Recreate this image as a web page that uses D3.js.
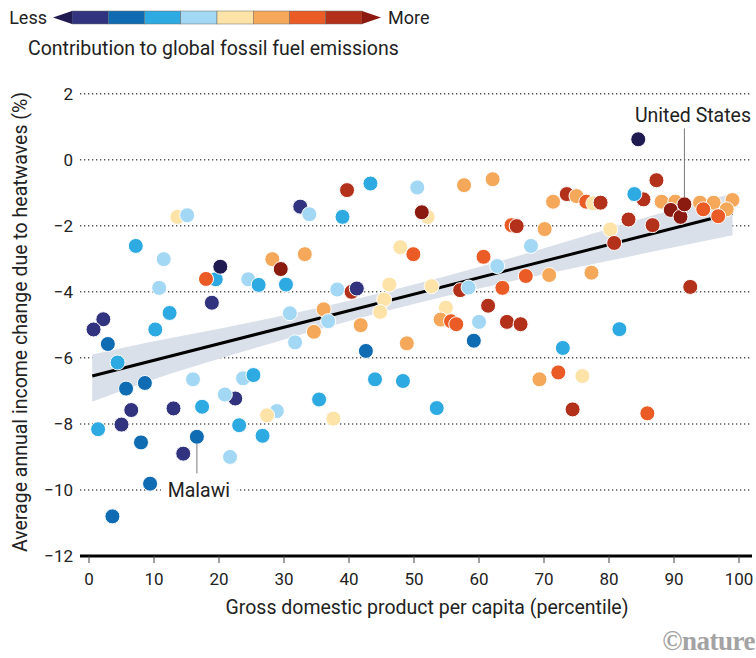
<!DOCTYPE html>
<html>
<head>
<meta charset="utf-8">
<script src="https://cdn.jsdelivr.net/npm/d3@7"></script>
<style>
  body { margin: 0; background: #fff; }
  svg { font-family: Roboto, "Noto Sans", sans-serif; }
</style>
</head>
<body>
<div id="chart"></div>
<script>
// 圖例: 0 = 最少 (箭頭), 1..8 = 色階, 9 = 最多 (箭頭)
const binColors = ["#1f1a50", "#32337f", "#0f6cb2", "#2eaae2", "#a3d8f4",
                   "#fde3a7", "#f5a85a", "#ea5b25", "#b3301a", "#8b1a10"];

// 每個國家: GDP 百分位, 收入變化 (%), 排放等級
const percentile = [
  13.6, 15.1, 7.2, 11.5, 19.5, 18.0, 20.2, 24.5, 10.8, 18.9,
  12.4, 2.2, 0.7, 10.2, 2.9, 4.4, 5.7, 8.6, 16.0, 23.7,
  25.3, 22.5, 20.9, 6.5, 13.0, 17.4, 5.0, 1.4, 23.1, 8.0,
  16.6, 14.5, 21.7, 9.4, 3.6,
  39.7, 43.3, 32.5, 33.9, 39.0, 47.9, 49.9, 28.2, 33.2, 29.5,
  26.1, 30.3, 38.2, 40.4, 41.2, 46.2, 30.9, 36.1, 36.8, 34.6,
  45.4, 44.8, 41.8, 31.7, 42.6, 48.9, 44.0, 48.3, 35.4, 28.9,
  27.4, 37.6, 26.7,
  50.5, 57.7, 62.1, 71.4, 52.1, 51.2, 65.0, 65.8, 70.1, 60.7,
  68.0, 62.8, 67.2, 70.8, 52.7, 57.1, 58.4, 63.6, 61.4, 54.9,
  54.1, 55.7, 56.5, 60.0, 64.3, 66.4, 59.2, 72.9, 69.3, 72.2,
  53.5, 74.4,
  84.5, 87.3, 85.3, 83.9, 73.5, 75.0, 76.5, 77.6, 78.7, 88.1,
  90.2, 89.5, 91.0, 91.6, 94.0, 96.1, 99.0, 94.5, 98.1, 96.8,
  83.0, 86.7, 80.2, 80.8, 77.3, 92.5, 81.6, 75.9, 85.9
];
const incomeChange = [
  -1.73, -1.68, -2.61, -3.01, -3.62, -3.61, -3.24, -3.62, -3.88, -4.33,
  -4.64, -4.83, -5.14, -5.14, -5.58, -6.14, -6.93, -6.76, -6.65, -6.62,
  -6.52, -7.23, -7.11, -7.58, -7.53, -7.48, -8.02, -8.16, -8.04, -8.56,
  -8.39, -8.90, -9.00, -9.81, -10.80,
  -0.92, -0.72, -1.42, -1.65, -1.73, -2.65, -2.86, -3.01, -2.86, -3.31,
  -3.79, -3.78, -3.93, -4.00, -3.90, -3.78, -4.65, -4.53, -4.89, -5.21,
  -4.23, -4.61, -5.01, -5.53, -5.79, -5.56, -6.65, -6.70, -7.26, -7.61,
  -7.74, -7.84, -8.36,
  -0.84, -0.77, -0.59, -1.27, -1.73, -1.59, -1.98, -2.01, -2.10, -2.94,
  -2.61, -3.22, -3.52, -3.49, -3.83, -3.95, -3.87, -3.88, -4.42, -4.48,
  -4.84, -4.89, -4.98, -4.91, -4.91, -4.98, -5.48, -5.70, -6.65, -6.44,
  -7.52, -7.56,
  0.62, -0.62, -1.20, -1.04, -1.04, -1.10, -1.27, -1.32, -1.30, -1.27,
  -1.27, -1.52, -1.73, -1.35, -1.30, -1.30, -1.22, -1.50, -1.50, -1.71,
  -1.81, -1.98, -2.11, -2.52, -3.42, -3.85, -5.13, -6.55, -7.68
];
const emissionBin = [
  5, 4, 3, 4, 3, 7, 0, 4, 4, 1,
  3, 1, 1, 3, 2, 3, 2, 2, 4, 4,
  3, 1, 4, 1, 1, 3, 1, 3, 3, 2,
  2, 1, 4, 2, 2,
  8, 3, 1, 4, 3, 5, 7, 6, 6, 9,
  3, 3, 4, 8, 1, 5, 4, 6, 4, 6,
  5, 5, 6, 4, 2, 6, 3, 3, 3, 4,
  5, 5, 3,
  4, 6, 6, 6, 5, 9, 7, 8, 6, 7,
  4, 4, 7, 6, 5, 8, 4, 7, 8, 5,
  6, 7, 7, 4, 8, 8, 2, 3, 6, 7,
  3, 8,
  0, 8, 8, 3, 8, 6, 7, 5, 8, 6,
  6, 9, 9, 9, 6, 6, 6, 7, 6, 7,
  8, 8, 5, 8, 6, 8, 3, 5, 7
];

// 迴歸線與信賴區間
const fitX = [0.5, 99];
const fitY = [-6.55, -1.62];
const bandX = [0.5, 10, 20, 30, 40, 50, 60, 70, 80, 90, 99];
const bandHigh = [-5.90, -5.50, -5.12, -4.71, -4.27, -3.78, -3.25, -2.68, -2.09, -1.50, -1.02];
const bandLow = [-7.33, -6.65, -6.03, -5.44, -4.88, -4.37, -3.90, -3.47, -3.06, -2.65, -2.29];

const xTicks = [0, 10, 20, 30, 40, 50, 60, 70, 80, 90, 100];
const yTicks = [2, 0, -2, -4, -6, -8, -10, -12];

// 標註
const labels = [
  {name: "United States", index: 113},
  {name: "Malawi", index: 30}
];

const width = 756, height = 658;
const titleSize = 19.5;
const svg = d3.select("#chart").append("svg")
  .attr("width", width)
  .attr("height", height);

// 設定比例尺
const x = d3.scaleLinear().domain([0, 100]).range([89, 739]);
const y = d3.scaleLinear().domain([-12, 2]).range([556, 93.7]);
const plotLeft = 80, plotRight = 752;

// 圖例
const legend = svg.append("g");
const legX = d3.scaleLinear().domain([1, 9]).range([72, 362]);
legend.selectAll(".bin")
  .data(d3.range(1, 9))
  .enter().append("rect")
  .attr("x", d => legX(d))
  .attr("y", 11)
  .attr("width", legX(2) - legX(1))
  .attr("height", 13)
  .attr("fill", d => binColors[d])
  .attr("stroke", "#6a6a6a")
  .attr("stroke-width", 0.5);
legend.append("path")
  .attr("d", `M${legX(1)},11 L${legX(1) - 19},17.5 L${legX(1)},24 Z`)
  .attr("fill", binColors[0]);
legend.append("path")
  .attr("d", `M${legX(9)},11 L${legX(9) + 19},17.5 L${legX(9)},24 Z`)
  .attr("fill", binColors[9]);
legend.append("text")
  .attr("x", 47).attr("y", 24)
  .attr("text-anchor", "end")
  .attr("font-size", 18).attr("fill", "#222")
  .text("Less");
legend.append("text")
  .attr("x", 388).attr("y", 24)
  .attr("font-size", 18).attr("fill", "#222")
  .text("More");
legend.append("text")
  .attr("x", 28).attr("y", 55)
  .attr("font-size", titleSize).attr("fill", "#222")
  .text("Contribution to global fossil fuel emissions");

// 格線
svg.append("g").selectAll("line")
  .data(yTicks.filter(d => d > -12))
  .enter().append("line")
  .attr("x1", plotLeft).attr("x2", plotRight)
  .attr("y1", d => y(d)).attr("y2", d => y(d))
  .attr("stroke", "#555")
  .attr("stroke-width", 1.5)
  .attr("stroke-dasharray", "1.3,2.7");

// y 軸刻度文字
svg.append("g").selectAll("text")
  .data(yTicks)
  .enter().append("text")
  .attr("x", 73)
  .attr("y", d => y(d) + 6)
  .attr("text-anchor", "end")
  .attr("font-size", 17).attr("fill", "#222")
  .text(d => d3.format("d")(d).replace("-", "\u2212"));

// 信賴區間
const band = bandX.map((d, i) => ({x: d, lo: bandLow[i], hi: bandHigh[i]}));
svg.append("path")
  .datum(band)
  .attr("fill", "#d9e0e9")
  .attr("d", d3.area().curve(d3.curveMonotoneX)
    .x(d => x(d.x)).y0(d => y(d.lo)).y1(d => y(d.hi)));

// 迴歸線
svg.append("line")
  .attr("x1", x(fitX[0])).attr("y1", y(fitY[0]))
  .attr("x2", x(fitX[1])).attr("y2", y(fitY[1]))
  .attr("stroke", "#000")
  .attr("stroke-width", 3);

// 散佈點
const points = percentile.map((d, i) => ({x: d, y: incomeChange[i], bin: emissionBin[i]}));
svg.append("g").selectAll("circle")
  .data(points)
  .enter().append("circle")
  .attr("cx", d => x(d.x))
  .attr("cy", d => y(d.y))
  .attr("r", 7.5)
  .attr("fill", d => binColors[d.bin])
  .attr("stroke", "#fff")
  .attr("stroke-width", 1);

// 標註: United States
const us = points[labels[0].index];
svg.append("line")
  .attr("x1", x(us.x)).attr("x2", x(us.x))
  .attr("y1", y(0.95)).attr("y2", y(us.y) - 7)
  .attr("stroke", "#777").attr("stroke-width", 1);
svg.append("text")
  .attr("x", 751).attr("y", y(1.15))
  .attr("text-anchor", "end")
  .attr("font-size", titleSize).attr("fill", "#222")
  .text(labels[0].name);

// 標註: Malawi
const mw = points[labels[1].index];
svg.append("line")
  .attr("x1", x(mw.x)).attr("x2", x(mw.x))
  .attr("y1", y(mw.y) + 7).attr("y2", y(-9.5))
  .attr("stroke", "#777").attr("stroke-width", 1);
svg.append("rect")
  .attr("x", x(mw.x) - 36).attr("y", y(-9.6))
  .attr("width", 76).attr("height", 22)
  .attr("fill", "#fff");
svg.append("text")
  .attr("x", x(mw.x) + 2).attr("y", y(-10) + 7)
  .attr("text-anchor", "middle")
  .attr("font-size", titleSize).attr("fill", "#222")
  .text(labels[1].name);

// x 軸
svg.append("line")
  .attr("x1", plotLeft).attr("x2", plotRight)
  .attr("y1", y(-12)).attr("y2", y(-12))
  .attr("stroke", "#000").attr("stroke-width", 3);
const xAxis = svg.append("g");
xAxis.selectAll("line")
  .data(xTicks)
  .enter().append("line")
  .attr("x1", d => x(d)).attr("x2", d => x(d))
  .attr("y1", y(-12)).attr("y2", y(-12) + 7)
  .attr("stroke", "#444").attr("stroke-width", 1);
xAxis.selectAll("text")
  .data(xTicks)
  .enter().append("text")
  .attr("x", d => x(d))
  .attr("y", y(-12) + 29)
  .attr("text-anchor", "middle")
  .attr("font-size", 17).attr("fill", "#222")
  .text(d => d);

// 軸標題
svg.append("text")
  .attr("x", 427).attr("y", 614)
  .attr("text-anchor", "middle")
  .attr("font-size", titleSize).attr("fill", "#222")
  .text("Gross domestic product per capita (percentile)");
svg.append("text")
  .attr("transform", "rotate(-90)")
  .attr("x", -322).attr("y", 27)
  .attr("text-anchor", "middle")
  .attr("font-size", titleSize).attr("fill", "#222")
  .text("Average annual income change due to heatwaves (%)");

// 版權
svg.append("text")
  .attr("x", 755).attr("y", 650)
  .attr("text-anchor", "end")
  .attr("font-family", "'Liberation Serif', serif")
  .attr("font-size", 27).attr("font-weight", "bold")
  .attr("letter-spacing", -0.5)
  .attr("fill", "#a3a3a3")
  .text("\u00a9nature");
</script>
</body>
</html>
